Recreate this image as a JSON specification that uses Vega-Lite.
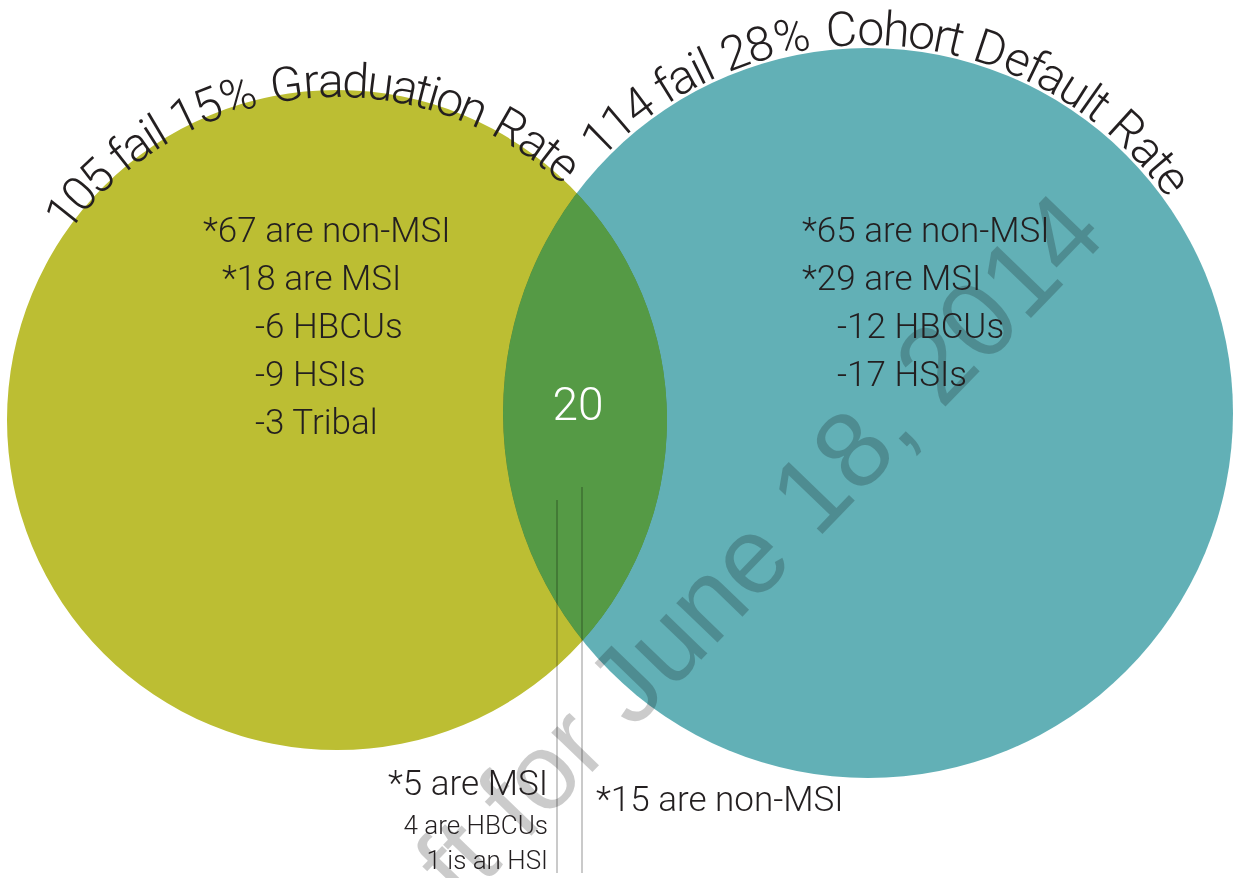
{
  "$schema": "https://vega.github.io/schema/vega-lite/v6.json",
  "width": 1236,
  "height": 878,
  "padding": 0,
  "autosize": "none",
  "background": "white",
  "config": {"view": {"stroke": null}},
  "datasets": {
    "circles": [
      {"set": "graduation", "x": 337, "y": 420, "n": 105},
      {"set": "default", "x": 868, "y": 413, "n": 114}
    ],
    "watermark": [
      {"x": 725, "y": 635, "text": "Draft for June 18, 2014"}
    ],
    "leaders": [
      {"x": 557, "y": 500, "y2": 873},
      {"x": 582, "y": 487, "y2": 873}
    ],
    "labels": [
      {"grp": "body", "x": 203, "y": 242, "text": "*67 are non-MSI"},
      {"grp": "body", "x": 222, "y": 290, "text": "*18 are MSI"},
      {"grp": "body", "x": 255, "y": 338, "text": "-6 HBCUs"},
      {"grp": "body", "x": 255, "y": 386, "text": "-9 HSIs"},
      {"grp": "body", "x": 255, "y": 434, "text": "-3 Tribal"},
      {"grp": "body", "x": 802, "y": 242, "text": "*65 are non-MSI"},
      {"grp": "body", "x": 802, "y": 290, "text": "*29 are MSI"},
      {"grp": "body", "x": 837, "y": 338, "text": "-12 HBCUs"},
      {"grp": "body", "x": 837, "y": 386, "text": "-17 HSIs"},
      {"grp": "body", "x": 596, "y": 811, "text": "*15 are non-MSI"},
      {"grp": "msi", "x": 548, "y": 795, "text": "*5 are MSI"},
      {"grp": "sub", "x": 548, "y": 834, "text": "4 are HBCUs"},
      {"grp": "sub", "x": 548, "y": 869, "text": "1 is an HSI"},
      {"grp": "count", "x": 578, "y": 420, "text": "20"}
    ],
    "arcText": [
      {"ch": "1", "x": 76.2, "y": 223.0, "deg": -51.56},
      {"ch": "0", "x": 91.6, "y": 205.0, "deg": -47.48},
      {"ch": "5", "x": 108.2, "y": 188.1, "deg": -43.40},
      {"ch": "f", "x": 130.6, "y": 168.7, "deg": -38.30},
      {"ch": "a", "x": 144.9, "y": 158.0, "deg": -35.24},
      {"ch": "i", "x": 158.6, "y": 148.8, "deg": -32.39},
      {"ch": "l", "x": 166.7, "y": 143.9, "deg": -30.76},
      {"ch": "1", "x": 191.7, "y": 130.3, "deg": -25.86},
      {"ch": "5", "x": 213.5, "y": 120.8, "deg": -21.78},
      {"ch": "%", "x": 242.5, "y": 110.7, "deg": -16.48},
      {"ch": "G", "x": 288.7, "y": 100.5, "deg": -8.33},
      {"ch": "r", "x": 312.3, "y": 97.9, "deg": -4.25},
      {"ch": "a", "x": 331.2, "y": 97.0, "deg": -0.99},
      {"ch": "d", "x": 354.9, "y": 97.5, "deg": 3.09},
      {"ch": "u", "x": 378.6, "y": 99.6, "deg": 7.17},
      {"ch": "a", "x": 402.0, "y": 103.4, "deg": 11.25},
      {"ch": "t", "x": 419.3, "y": 107.4, "deg": 14.31},
      {"ch": "i", "x": 429.6, "y": 110.1, "deg": 16.14},
      {"ch": "o", "x": 445.4, "y": 115.1, "deg": 19.00},
      {"ch": "n", "x": 467.5, "y": 123.7, "deg": 23.08},
      {"ch": "R", "x": 502.5, "y": 141.1, "deg": 29.81},
      {"ch": "a", "x": 525.6, "y": 155.5, "deg": 34.49},
      {"ch": "t", "x": 539.9, "y": 166.0, "deg": 37.55},
      {"ch": "e", "x": 553.8, "y": 177.2, "deg": 40.61},
      {"ch": "1", "x": 610.3, "y": 149.9, "deg": -44.29},
      {"ch": "1", "x": 628.5, "y": 133.3, "deg": -40.47},
      {"ch": "4", "x": 647.8, "y": 118.0, "deg": -36.64},
      {"ch": "f", "x": 673.2, "y": 100.6, "deg": -31.86},
      {"ch": "a", "x": 689.1, "y": 91.3, "deg": -29.00},
      {"ch": "i", "x": 704.4, "y": 83.3, "deg": -26.32},
      {"ch": "l", "x": 713.2, "y": 79.1, "deg": -24.80},
      {"ch": "2", "x": 740.5, "y": 67.7, "deg": -20.21},
      {"ch": "8", "x": 763.9, "y": 60.0, "deg": -16.39},
      {"ch": "%", "x": 794.9, "y": 52.3, "deg": -11.42},
      {"ch": "C", "x": 842.5, "y": 45.9, "deg": -3.97},
      {"ch": "o", "x": 870.7, "y": 45.0, "deg": 0.42},
      {"ch": "h", "x": 895.3, "y": 46.0, "deg": 4.25},
      {"ch": "o", "x": 919.8, "y": 48.7, "deg": 8.07},
      {"ch": "r", "x": 939.2, "y": 52.0, "deg": 11.13},
      {"ch": "t", "x": 952.5, "y": 54.8, "deg": 13.23},
      {"ch": "D", "x": 985.6, "y": 64.2, "deg": 18.58},
      {"ch": "e", "x": 1012.0, "y": 74.3, "deg": 22.97},
      {"ch": "f", "x": 1028.8, "y": 81.9, "deg": 25.84},
      {"ch": "a", "x": 1045.2, "y": 90.3, "deg": 28.70},
      {"ch": "u", "x": 1066.4, "y": 102.9, "deg": 32.53},
      {"ch": "l", "x": 1080.7, "y": 112.5, "deg": 35.20},
      {"ch": "t", "x": 1089.7, "y": 119.0, "deg": 36.92},
      {"ch": "R", "x": 1116.2, "y": 141.0, "deg": 42.27},
      {"ch": "a", "x": 1136.4, "y": 160.8, "deg": 46.66},
      {"ch": "t", "x": 1148.7, "y": 174.5, "deg": 49.53},
      {"ch": "e", "x": 1160.3, "y": 188.9, "deg": 52.40}
    ]
  },
  "encoding": {
    "x": {"field": "x", "type": "quantitative", "scale": {"domain": [0, 1236], "nice": false, "zero": false}, "axis": null},
    "y": {"field": "y", "type": "quantitative", "scale": {"domain": [0, 878], "nice": false, "zero": false, "reverse": true}, "axis": null}
  },
  "layer": [
    {
      "data": {"name": "circles"},
      "transform": [{"filter": "datum.set === 'graduation'"}],
      "mark": {"type": "point", "shape": "circle", "filled": true, "opacity": 1, "fill": "#BCBE33", "strokeWidth": 0, "size": 435600}
    },
    {
      "data": {"name": "circles"},
      "transform": [{"filter": "datum.set === 'default'"}],
      "mark": {"type": "point", "shape": "circle", "filled": true, "opacity": 1, "fill": "#62B0B6", "strokeWidth": 0, "size": 532900, "blend": "multiply"}
    },
    {
      "data": {"name": "circles"},
      "transform": [{"filter": "datum.set === 'default'"}],
      "mark": {"type": "point", "shape": "circle", "filled": true, "opacity": 1, "fill": "#559A45", "strokeWidth": 0, "size": 532900, "blend": "lighten"}
    },
    {
      "data": {"name": "watermark"},
      "mark": {"type": "text", "font": "Liberation Sans, Arial, sans-serif", "fontSize": 108, "align": "center", "baseline": "alphabetic", "angle": -46, "fill": "#000000", "opacity": 0.2},
      "encoding": {"text": {"field": "text"}}
    },
    {
      "data": {"name": "leaders"},
      "mark": {"type": "rule", "color": "#000000", "opacity": 0.35, "strokeWidth": 1.2},
      "encoding": {"y2": {"field": "y2"}}
    },
    {
      "data": {"name": "labels"},
      "transform": [{"filter": "datum.grp === 'body'"}],
      "mark": {"type": "text", "font": "Roboto", "fontWeight": 300, "fontSize": 35, "align": "left", "baseline": "alphabetic", "fill": "#231F20"},
      "encoding": {"text": {"field": "text"}}
    },
    {
      "data": {"name": "labels"},
      "transform": [{"filter": "datum.grp === 'msi'"}],
      "mark": {"type": "text", "font": "Roboto", "fontWeight": 300, "fontSize": 35, "align": "right", "baseline": "alphabetic", "fill": "#231F20"},
      "encoding": {"text": {"field": "text"}}
    },
    {
      "data": {"name": "labels"},
      "transform": [{"filter": "datum.grp === 'sub'"}],
      "mark": {"type": "text", "font": "Roboto", "fontWeight": 300, "fontSize": 26, "align": "right", "baseline": "alphabetic", "fill": "#231F20"},
      "encoding": {"text": {"field": "text"}}
    },
    {
      "data": {"name": "labels"},
      "transform": [{"filter": "datum.grp === 'count'"}],
      "mark": {"type": "text", "font": "Roboto", "fontWeight": 300, "fontSize": 46, "align": "center", "baseline": "alphabetic", "fill": "#FFFFFF"},
      "encoding": {"text": {"field": "text"}}
    },
    {
      "data": {"name": "arcText"},
      "mark": {"type": "text", "font": "Roboto", "fontWeight": 300, "fontSize": 48, "align": "center", "baseline": "alphabetic", "fill": "#231F20"},
      "encoding": {
        "text": {"field": "ch"},
        "angle": {"field": "deg", "type": "quantitative", "scale": null}
      }
    }
  ]
}
